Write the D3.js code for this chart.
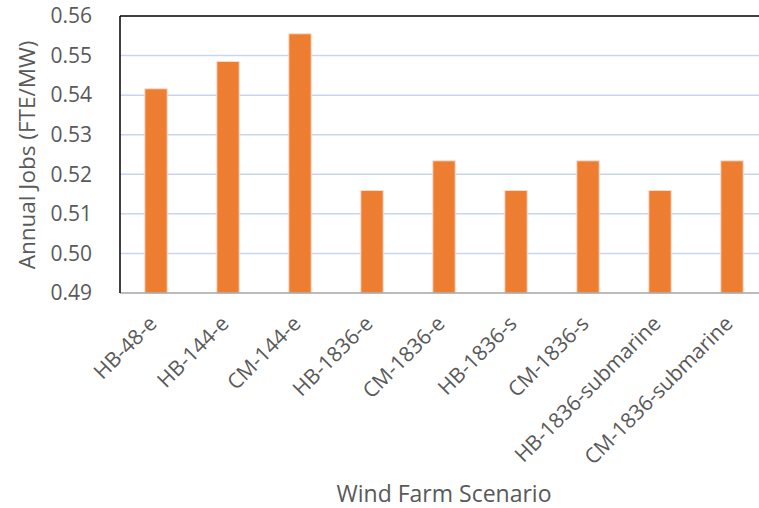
<!DOCTYPE html>
<html><head><meta charset="utf-8">
<script src="https://cdn.jsdelivr.net/npm/d3@7"></script>
<style>body{margin:0;background:#fff}svg{display:block}</style>
</head><body>
<svg id="c" width="759" height="508"></svg>
<script>
const categories = ["HB-48-e","HB-144-e","CM-144-e","HB-1836-e","CM-1836-e","HB-1836-s","CM-1836-s","HB-1836-submarine","CM-1836-submarine"];
const jobs = [0.5416,0.5485,0.5555,0.5159,0.5234,0.5159,0.5234,0.5159,0.5234];
const yTicks = [0.49,0.50,0.51,0.52,0.53,0.54,0.55,0.56];
const yTitle = "Annual Jobs (FTE/MW)";
const xTitle = "Wind Farm Scenario";

const font = "'Open Sans', sans-serif";
const svg = d3.select("#c");
const L = 120, T = 16, B = 293, R = 768;
const x = d3.scaleBand().domain(categories).range([L, R]).paddingInner(0.69).paddingOuter(0.345);
const y = d3.scaleLinear().domain([0.49, 0.56]).range([B, T]);

// gridlines
svg.append("g").selectAll("line").data(yTicks.slice(1, -1)).join("line")
  .attr("x1", L).attr("x2", 759).attr("y1", d => y(d)).attr("y2", d => y(d))
  .attr("stroke", "#c9d5ec").attr("stroke-width", 1.5);

// bars
svg.append("g").selectAll("rect").data(categories).join("rect")
  .attr("x", d => x(d)).attr("width", x.bandwidth())
  .attr("y", (d, i) => y(jobs[i])).attr("height", (d, i) => B - y(jobs[i]))
  .attr("fill", "#ED7D31").attr("stroke", "#fbd9c4").attr("stroke-width", 1);

// frame
svg.append("line").attr("x1", L).attr("x2", 759).attr("y1", T).attr("y2", T).attr("stroke", "#000").attr("stroke-width", 1.5);
svg.append("line").attr("x1", L).attr("x2", 759).attr("y1", B).attr("y2", B).attr("stroke", "#a6a6a6").attr("stroke-width", 1.5);
svg.append("line").attr("x1", L).attr("x2", L).attr("y1", T).attr("y2", B).attr("stroke", "#000").attr("stroke-width", 1.5);

// y axis labels
const yAxis = d3.axisLeft(y).tickValues(yTicks).tickFormat(d3.format(".2f")).tickSize(0).tickPadding(28);
const ga = svg.append("g").attr("transform", `translate(${L},0)`).call(yAxis);
ga.select(".domain").remove();
ga.selectAll("text").attr("font-family", font).attr("font-size", 21).attr("fill", "#595959");

// x axis labels
const xAxis = d3.axisBottom(x).tickSize(0).tickPadding(0);
const gx = svg.append("g").attr("transform", `translate(0,${B})`).call(xAxis);
gx.select(".domain").remove();
gx.selectAll("text").attr("font-family", font).attr("font-size", 21).attr("fill", "#595959")
  .attr("text-anchor", "end").attr("dy", null).attr("y", 0)
  .attr("transform", "translate(2,32) rotate(-45)");

// titles
svg.append("text").attr("x", 444).attr("y", 502).attr("text-anchor", "middle")
  .attr("font-family", font).attr("font-size", 23).attr("fill", "#595959").text(xTitle);
svg.append("text").attr("transform", "translate(35,155) rotate(-90)").attr("text-anchor", "middle")
  .attr("font-family", font).attr("font-size", 22.5).attr("fill", "#595959").text(yTitle);
</script>
</body></html>
